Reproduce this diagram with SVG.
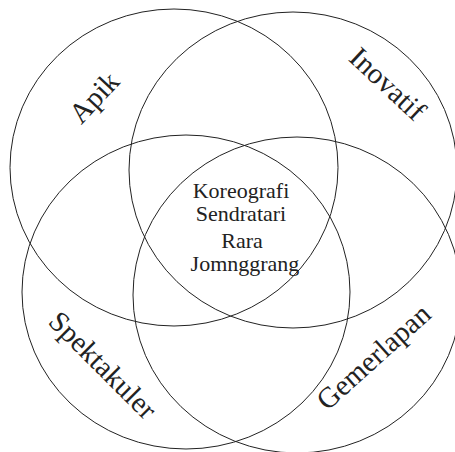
<svg xmlns="http://www.w3.org/2000/svg" width="455" height="452" viewBox="0 0 455 452">
<style>
.c{fill:none;stroke:#222;stroke-width:1}
text{font-family:"Liberation Serif","Times New Roman",serif;fill:#222;text-anchor:middle}
.m{font-size:22px}
.l{font-size:29px}
</style>
<rect width="455" height="452" fill="#fff"/>
<g id="apik"><ellipse class="c" cx="174" cy="167.5" rx="164" ry="158.5"/><text class="l" transform="translate(101,104) rotate(-47)">Apik</text></g>
<g id="inovatif"><ellipse class="c" cx="293" cy="170" rx="164" ry="158"/><text class="l" transform="translate(381,91) rotate(43)">Inovatif</text></g>
<g id="spektakuler"><ellipse class="c" cx="186" cy="292" rx="164" ry="157"/><text class="l" transform="translate(96,372) rotate(45)">Spektakuler</text></g>
<g id="gemerlapan"><ellipse class="c" cx="297" cy="295" rx="164" ry="158"/><text class="l" transform="translate(380,364) rotate(-42)">Gemerlapan</text></g>
<g id="center"><text class="m" x="241" y="198">Koreografi</text><text class="m" x="241" y="221">Sendratari</text><text class="m" x="242" y="248">Rara</text><text class="m" x="245" y="271">Jomnggrang</text></g>
<g id="connectors"></g>
</svg>
